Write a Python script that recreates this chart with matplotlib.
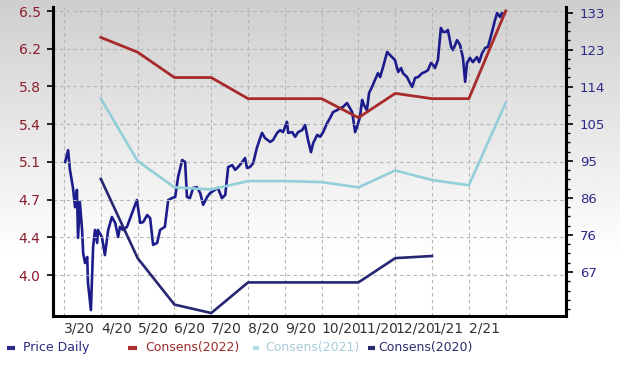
import matplotlib
matplotlib.use('Agg')
import matplotlib.pyplot as plt
from matplotlib.lines import Line2D
from matplotlib.ticker import AutoMinorLocator
import numpy as np

# x axis: months since 3/20
month_labels = ['3/20', '4/20', '5/20', '6/20', '7/20', '8/20', '9/20',
                '10/20', '11/20', '12/20', '1/21', '2/21', '']

# consensus EPS estimates (left axis), one value per month starting 4/20
cons_months = [1, 2, 3, 4, 5, 6, 7, 8, 9, 10, 11, 12]
cons_2022 = [6.25, 6.11, 5.87, 5.87, 5.67, 5.67, 5.67, 5.49, 5.72, 5.67, 5.67, 6.50]
cons_2021 = [5.67, 5.08, 4.83, 4.81, 4.89, 4.89, 4.88, 4.83, 4.99, 4.90, 4.85, 5.63]
cons_2020 = [4.91, 4.16, 3.72, 3.64, 3.93, 3.93, 3.93, 3.93, 4.16, 4.18]

# daily price (right axis)
price_months = [0.03, 0.11, 0.16, 0.24, 0.30, 0.35, 0.38, 0.43, 0.49, 0.52,
                0.57, 0.63, 0.65, 0.73, 0.79, 0.84, 0.90, 0.92, 1.03, 1.11,
                1.20, 1.30, 1.39, 1.47, 1.52, 1.60, 1.71, 1.85, 1.98, 2.07,
                2.15, 2.26, 2.34, 2.42, 2.53, 2.61, 2.74, 2.83, 2.93, 3.02,
                3.10, 3.21, 3.29, 3.34, 3.42, 3.51, 3.61, 3.70, 3.78, 3.89,
                3.97, 4.10, 4.18, 4.29, 4.38, 4.46, 4.57, 4.65, 4.73, 4.84,
                4.92, 4.97, 5.05, 5.14, 5.24, 5.33, 5.38, 5.46, 5.60, 5.68,
                5.79, 5.87, 5.95, 6.06, 6.09, 6.20, 6.28, 6.36, 6.47, 6.55,
                6.63, 6.71, 6.77, 6.88, 6.96, 7.04, 7.15, 7.23, 7.31, 7.42,
                7.50, 7.58, 7.69, 7.83, 7.91, 7.96, 8.04, 8.10, 8.15, 8.23,
                8.29, 8.37, 8.45, 8.53, 8.59, 8.67, 8.78, 8.91, 8.99, 9.08,
                9.16, 9.21, 9.32, 9.40, 9.46, 9.54, 9.62, 9.73, 9.81, 9.89,
                9.97, 10.03, 10.08, 10.16, 10.24, 10.30, 10.38, 10.43, 10.52, 10.57,
                10.68, 10.76, 10.84, 10.90, 10.95, 11.03, 11.11, 11.22, 11.28, 11.36,
                11.44, 11.52, 11.63, 11.71, 11.77, 11.85, 11.90]
price = [95.0, 98.0, 93.0, 88.6, 83.5, 87.9, 75.7, 84.8, 77.7, 71.8,
         69.3, 70.8, 64.2, 57.3, 73.4, 77.7, 74.4, 77.7, 75.9, 71.3,
         77.7, 81.0, 79.5, 75.9, 78.5, 77.7, 78.5, 82.0, 85.3, 79.5,
         79.7, 81.5, 80.7, 73.9, 74.4, 77.7, 78.5, 85.3, 85.8, 86.1,
         91.2, 95.5, 95.0, 86.1, 85.8, 88.4, 88.6, 87.1, 84.1, 86.1,
         87.1, 87.9, 88.4, 85.8, 86.6, 93.7, 94.2, 93.0, 93.7, 95.0,
         96.0, 93.5, 93.7, 94.7, 98.6, 101.1, 102.4, 101.1, 100.1, 100.6,
         102.4, 103.1, 102.6, 105.2, 102.4, 102.6, 101.4, 102.6, 103.1, 104.4,
         100.6, 97.5, 99.8, 101.9, 101.4, 102.6, 104.9, 106.2, 107.7, 108.2,
         108.7, 109.0, 110.0, 107.7, 102.6, 103.9, 106.4, 110.8, 109.5, 108.2,
         112.6, 114.1, 115.9, 117.6, 116.6, 119.2, 123.0, 121.7, 121.0, 117.9,
         118.9, 117.6, 116.6, 115.1, 114.1, 116.4, 116.6, 117.6, 117.9, 118.4,
         120.2, 119.7, 118.9, 121.0, 129.1, 128.1, 128.1, 128.6, 124.3, 123.5,
         126.0, 124.8, 121.5, 115.4, 120.2, 121.5, 120.4, 121.7, 120.4, 122.7,
         124.0, 124.3, 128.1, 131.1, 132.9, 131.9, 132.9]

eps_tick_labels = ['4.0', '4.4', '4.7', '5.1', '5.4', '5.8', '6.2', '6.5']
price_tick_labels = ['67', '76', '86', '95', '105', '114', '123', '133']

W, H = 620, 365
fig = plt.figure(figsize=(W / 100, H / 100), dpi=100)

# grey-to-white background
bg = fig.add_axes([0, 0, 1, 1], zorder=-10)
grad = np.clip(np.linspace(0.81, 1.08, 256), 0, 1).reshape(-1, 1)
bg.imshow(grad, aspect='auto', cmap='gray', vmin=0, vmax=1, extent=[0, 1, 0, 1])
bg.axis('off')

rect = [53 / W, 1 - 316 / H, (566 - 53) / W, (316 - 7) / H]
ax2 = fig.add_axes(rect)          # price, right axis
ax = ax2.twinx()                  # consensus, left axis
ax.yaxis.tick_left()
ax2.yaxis.tick_right()
ax.set_zorder(ax2.get_zorder() + 1)
ax.patch.set_visible(False)
ax2.patch.set_visible(False)

ax2.set_xlim(-0.30, 13.64)
ax.set_ylim(3.612, 6.538)
ax2.set_ylim(55.8, 134.44)

grid_kw = dict(color='#b4b4b4', lw=0.8, ls=(0, (3, 3)))
ax2.set_xticks(range(len(month_labels)))
ax2.set_xticklabels(month_labels, ha='left', fontsize=10, color='#333333')
ax2.tick_params(axis='x', length=0, pad=4)
ax2.grid(True, axis='x', **grid_kw)

ax.set_yticks(np.linspace(4.0, 6.5, 8))
ax.set_yticklabels(eps_tick_labels, fontsize=10, color='#8b1e2e')
ax.tick_params(axis='y', length=4, width=1.2, pad=5, direction='out')
ax.grid(True, axis='y', **grid_kw)
ax.set_axisbelow(True)

ax2.set_yticks(np.linspace(67, 133, 8))
ax2.set_yticklabels(price_tick_labels, fontsize=9.5, color='#2a2a88')
ax2.yaxis.set_minor_locator(AutoMinorLocator(4))
ax2.tick_params(axis='y', which='major', length=5, width=1.2, pad=5, direction='out')
ax2.tick_params(axis='y', which='minor', length=3, width=1.0, direction='out')

for a in (ax, ax2):
    a.spines['top'].set_visible(False)
    a.spines['left'].set_linewidth(2.2)
    a.spines['right'].set_linewidth(2.2)
    a.spines['bottom'].set_linewidth(2.0)

ax2.plot(price_months, price, color='#1c1c8c', lw=1.9, solid_joinstyle='round')
ax.plot(cons_months, cons_2022, color='#a82a2a', lw=2.0)
ax.plot(cons_months, cons_2021, color='#92cfd8', lw=1.9)
ax.plot(cons_months[:len(cons_2020)], cons_2020, color='#262672', lw=1.9)

# legend row
legend_items = [
    (7, 15, 23, 'Price Daily', '#2a2a88', '#2a2a80'),
    (128, 137, 145, 'Consens(2022)', '#a83030', '#9b2a2a'),
    (253, 259, 265, 'Consens(2021)', '#b8dce4', '#a8ccd8'),
    (368, 375, 378, 'Consens(2020)', '#2a2a70', '#2b2b6b'),
]
ly = 1 - 348 / H
for x0, x1, tx, label, lc, tc in legend_items:
    fig.add_artist(Line2D([x0 / W, x1 / W], [ly, ly], transform=fig.transFigure,
                          color=lc, lw=3, solid_capstyle='butt'))
    fig.text(tx / W, ly, label, fontsize=9, color=tc, va='center', ha='left')

fig.savefig('out.png', dpi=100)
